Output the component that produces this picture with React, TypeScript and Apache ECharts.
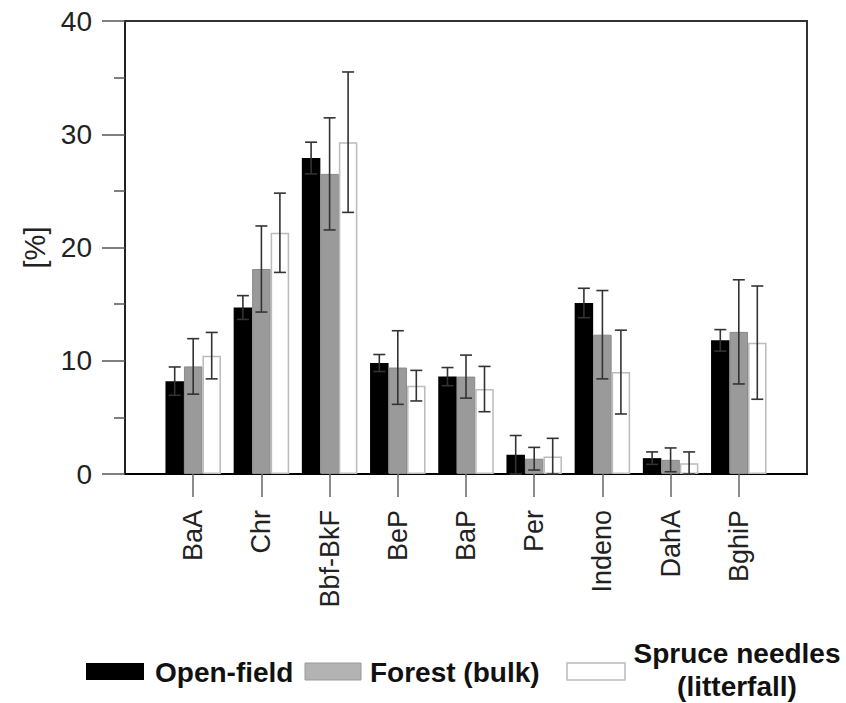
import React, { useEffect, useRef } from "react";
import * as echarts from "echarts";

const categories = ["", "BaA", "Chr", "Bbf-BkF", "BeP", "BaP", "Per", "Indeno", "DahA", "BghiP", ""];
const openField = [null, 8.2, 14.7, 27.9, 9.8, 8.6, 1.7, 15.1, 1.4, 11.8, null];
const openFieldErr = [null, 1.25, 1.05, 1.4, 0.75, 0.8, 1.7, 1.3, 0.55, 0.95, null];
const forest = [null, 9.5, 18.1, 26.5, 9.4, 8.6, 1.35, 12.3, 1.25, 12.55, null];
const forestErr = [null, 2.45, 3.8, 4.95, 3.25, 1.9, 1.0, 3.9, 1.05, 4.6, null];
const spruce = [null, 10.45, 21.3, 29.3, 7.8, 7.5, 1.55, 9.0, 0.95, 11.6, null];
const spruceErr = [null, 2.05, 3.5, 6.2, 1.35, 2.0, 1.6, 3.7, 1.0, 5.0, null];
const yTicks = [0, 10, 20, 30, 40];

const FONT = "'Liberation Sans', Arial, Helvetica, sans-serif";
const BAR_W = 18.5;

function errSeries(vals: (number | null)[], errs: (number | null)[], offset: number) {
  const data = vals
    .map((v, i) => (v == null ? null : [i, v - (errs[i] as number), v + (errs[i] as number)]))
    .filter((d) => d !== null);
  return {
    type: "custom",
    z: 10,
    silent: true,
    data,
    renderItem: (params: any, api: any) => {
      const x = api.value(0);
      const lo = Math.max(0, api.value(1));
      const hi = api.value(2);
      const pHi = api.coord([x, hi]);
      const pLo = api.coord([x, lo]);
      const cx = pHi[0] + offset;
      const hw = 6;
      const style = { stroke: "#333", lineWidth: 1.6 };
      return {
        type: "group",
        children: [
          { type: "line", shape: { x1: cx, y1: pHi[1], x2: cx, y2: pLo[1] }, style },
          { type: "line", shape: { x1: cx - hw, y1: pHi[1], x2: cx + hw, y2: pHi[1] }, style },
          { type: "line", shape: { x1: cx - hw, y1: pLo[1], x2: cx + hw, y2: pLo[1] }, style },
        ],
      };
    },
  };
}

export default function App() {
  const ref = useRef<HTMLDivElement>(null);
  useEffect(() => {
    const chart = echarts.init(ref.current!, null, { renderer: "svg" });
    chart.setOption({
      animation: false,
      backgroundColor: "#fff",
      grid: {
        left: 125,
        right: 39,
        top: 21,
        bottom: 229,
        show: true,
        borderColor: "#333",
        borderWidth: 2,
      },
      xAxis: {
        type: "category",
        data: categories,
        boundaryGap: false,
        axisLine: { lineStyle: { color: "#000", width: 2 } },
        axisTick: {
          length: 23,
          interval: (i: number) => i >= 1 && i <= 9,
          lineStyle: { color: "#666", width: 1.5 },
        },
        axisLabel: {
          rotate: 90,
          margin: 36,
          fontSize: 27,
          color: "#222",
          fontFamily: FONT,
          interval: (i: number) => i >= 1 && i <= 9,
        },
        splitLine: { show: false },
      },
      yAxis: {
        type: "value",
        min: yTicks[0],
        max: yTicks[yTicks.length - 1],
        interval: 10,
        name: "[%]",
        nameLocation: "middle",
        nameGap: 76,
        nameRotate: 90,
        nameTextStyle: { fontSize: 29, color: "#222", fontFamily: FONT },
        axisLine: { show: true, lineStyle: { color: "#222", width: 2 } },
        axisTick: { show: true, length: 23, lineStyle: { color: "#555", width: 1.5 } },
        minorTick: { show: true, splitNumber: 2, length: 11, lineStyle: { color: "#555", width: 1.5 } },
        axisLabel: { fontSize: 28, color: "#222", margin: 33, fontFamily: FONT },
        splitLine: { show: false },
      },
      series: [
        {
          type: "bar",
          name: "Open-field",
          data: openField,
          barWidth: BAR_W,
          barGap: "0%",
          itemStyle: { color: "#000" },
        },
        {
          type: "bar",
          name: "Forest (bulk)",
          data: forest,
          barWidth: BAR_W,
          barGap: "0%",
          itemStyle: { color: "#9a9a9a", borderColor: "#8a8a8a", borderWidth: 1 },
        },
        {
          type: "bar",
          name: "Spruce needles (litterfall)",
          data: spruce,
          barWidth: BAR_W,
          barGap: "0%",
          itemStyle: { color: "#fff", borderColor: "#bbb", borderWidth: 1.5 },
        },
        errSeries(openField, openFieldErr, -BAR_W),
        errSeries(forest, forestErr, 0),
        errSeries(spruce, spruceErr, BAR_W),
      ],
      graphic: [
        { type: "rect", shape: { x: 86, y: 663, width: 58, height: 17 }, style: { fill: "#000" } },
        {
          type: "text",
          x: 155,
          y: 672,
          style: { text: "Open-field", fontSize: 28, fontWeight: "bold", fontFamily: FONT, fill: "#111", verticalAlign: "middle" },
        },
        { type: "rect", shape: { x: 305, y: 663, width: 56, height: 17 }, style: { fill: "#b3b3b3", stroke: "#999", lineWidth: 1 } },
        {
          type: "text",
          x: 370,
          y: 672,
          style: { text: "Forest (bulk)", fontSize: 28, fontWeight: "bold", fontFamily: FONT, fill: "#111", verticalAlign: "middle" },
        },
        { type: "rect", shape: { x: 567, y: 663, width: 58, height: 17 }, style: { fill: "#fff", stroke: "#bbb", lineWidth: 1.5 } },
        {
          type: "text",
          x: 737,
          y: 670,
          style: {
            text: "Spruce needles\n(litterfall)",
            fontSize: 28,
            fontWeight: "bold",
            fontFamily: FONT,
            fill: "#111",
            align: "center",
            verticalAlign: "middle",
            lineHeight: 33,
          },
        },
      ],
    });
    return () => chart.dispose();
  }, []);
  return <div ref={ref} style={{ position: "fixed", left: 0, top: 0, width: 846, height: 703 }} />;
}
